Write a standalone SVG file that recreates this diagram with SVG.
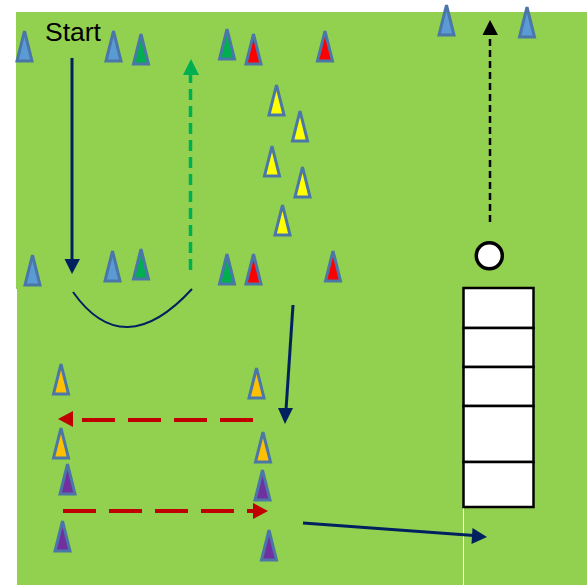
<svg xmlns="http://www.w3.org/2000/svg" width="587" height="585" viewBox="0 0 587 585">
<defs>
<style>
.cone{stroke:#4A76A8;stroke-width:3;stroke-linejoin:miter}
.blue{fill:#5B9BD5}.green{fill:#00B050}.red{fill:#FF0000}.yellow{fill:#FFFF00}.orange{fill:#FFC000}.purple{fill:#7030A0}
.navy{stroke:#002060;stroke-width:3;fill:none}
.reddash{stroke:#C00000;stroke-width:4;stroke-dasharray:33 13;fill:none}
.cell{fill:#FFFFFF;stroke:#000000;stroke-width:2.5}
</style>
<path id="c" d="M0,0 L7.5,30 L-7.5,30 Z"/>
</defs>
<rect x="0" y="0" width="587" height="585" fill="#FFFFFF"/>
<rect x="16" y="12" width="571" height="277" fill="#92D050"/>
<rect x="17" y="288" width="570" height="297" fill="#92D050"/>
<line x1="463.5" y1="507" x2="463.5" y2="585" stroke="#FFFFFF" stroke-width="1"/>
<text x="45" y="41" font-family="Liberation Sans, Arial, sans-serif" font-size="26.5" fill="#000000">Start</text>
<g id="cones">
<g id="cone1"><use href="#c" class="cone blue" transform="translate(24.5,31)"/></g>
<g id="cone2"><use href="#c" class="cone blue" transform="translate(113.5,31)"/></g>
<g id="cone3"><use href="#c" class="cone green" transform="translate(141,34)"/></g>
<g id="cone4"><use href="#c" class="cone green" transform="translate(227,29)"/></g>
<g id="cone5"><use href="#c" class="cone red" transform="translate(253.5,34)"/></g>
<g id="cone6"><use href="#c" class="cone red" transform="translate(325,31)"/></g>
<g id="cone7"><use href="#c" class="cone blue" transform="translate(446.5,5)"/></g>
<g id="cone8"><use href="#c" class="cone blue" transform="translate(527,7)"/></g>
<g id="cone9"><use href="#c" class="cone yellow" transform="translate(276.5,85)"/></g>
<g id="cone10"><use href="#c" class="cone yellow" transform="translate(300,111)"/></g>
<g id="cone11"><use href="#c" class="cone yellow" transform="translate(272,146)"/></g>
<g id="cone12"><use href="#c" class="cone yellow" transform="translate(302.5,167)"/></g>
<g id="cone13"><use href="#c" class="cone yellow" transform="translate(282.5,205)"/></g>
<g id="cone14"><use href="#c" class="cone blue" transform="translate(32.5,255)"/></g>
<g id="cone15"><use href="#c" class="cone blue" transform="translate(112.5,251)"/></g>
<g id="cone16"><use href="#c" class="cone green" transform="translate(141,249)"/></g>
<g id="cone17"><use href="#c" class="cone green" transform="translate(227,254)"/></g>
<g id="cone18"><use href="#c" class="cone red" transform="translate(253.5,254)"/></g>
<g id="cone19"><use href="#c" class="cone red" transform="translate(333,251)"/></g>
<g id="cone20"><use href="#c" class="cone orange" transform="translate(61,364)"/></g>
<g id="cone21"><use href="#c" class="cone orange" transform="translate(256.5,368)"/></g>
<g id="cone22"><use href="#c" class="cone orange" transform="translate(61,428)"/></g>
<g id="cone23"><use href="#c" class="cone orange" transform="translate(263,432)"/></g>
<g id="cone24"><use href="#c" class="cone purple" transform="translate(67.5,464)"/></g>
<g id="cone25"><use href="#c" class="cone purple" transform="translate(62.5,521)"/></g>
<g id="cone26"><use href="#c" class="cone purple" transform="translate(262.5,470)"/></g>
<g id="cone27"><use href="#c" class="cone purple" transform="translate(269,530)"/></g>
</g>
<g id="ball"><circle cx="489.3" cy="255.7" r="13" fill="#FFFFFF" stroke="#000000" stroke-width="3.5"/></g>
<g id="ladder">
<rect class="cell" x="463.5" y="288" width="70" height="40"/>
<rect class="cell" x="463.5" y="328" width="70" height="39"/>
<rect class="cell" x="463.5" y="367" width="70" height="39"/>
<rect class="cell" x="463.5" y="406" width="70" height="56"/>
<rect class="cell" x="463.5" y="462" width="70" height="45"/>
</g>
<g id="connectors">
<line class="navy" x1="72" y1="58" x2="72" y2="261"/>
<polygon points="64.5,259 80,259 72,274" fill="#002060"/>
<path d="M73,292 Q123.5,363.5 192,289" stroke="#002060" stroke-width="2" fill="none"/>
<line x1="190.5" y1="270" x2="190.5" y2="74" stroke="#00B050" stroke-width="3.5" stroke-dasharray="11 6"/>
<polygon points="183,75 199,75 191,59" fill="#00B050"/>
<line class="navy" x1="293" y1="305" x2="286" y2="410"/>
<polygon points="278,408 293,408 285,424" fill="#002060"/>
<line class="reddash" x1="253" y1="420" x2="82" y2="420"/>
<polygon points="73,411 73,427 58,419" fill="#C00000"/>
<line class="reddash" x1="63" y1="511" x2="253" y2="511"/>
<polygon points="253,503 253,519 268,511" fill="#C00000"/>
<line class="navy" x1="303" y1="523" x2="474" y2="535.5"/>
<polygon points="472.5,528 471.5,544 487,537" fill="#002060"/>
<line x1="490" y1="222" x2="490" y2="34" stroke="#000000" stroke-width="2.5" stroke-dasharray="7 4"/>
<polygon points="482.5,35 498,35 490,20" fill="#000000"/>
</g>
</svg>
